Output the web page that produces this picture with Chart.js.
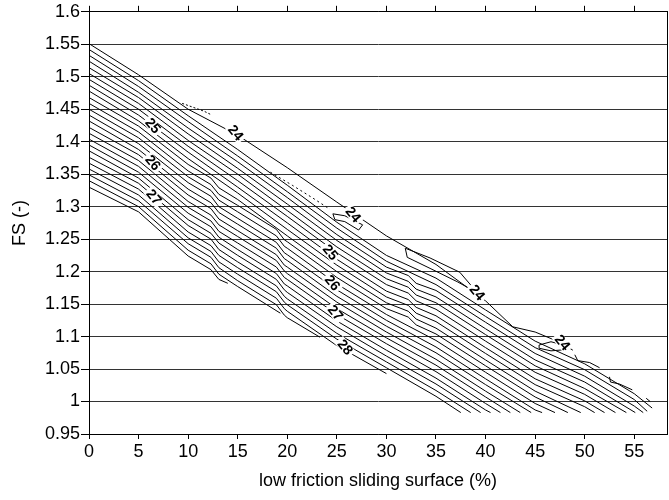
<!DOCTYPE html>
<html>
<head>
<meta charset="utf-8">
<script src="https://cdn.jsdelivr.net/npm/chart.js@4.4.1/dist/chart.umd.min.js"></script>
<style>
  html, body { margin: 0; padding: 0; background: #fff; }
  #wrap { width: 669px; height: 500px; }
</style>
</head>
<body>
<div id="wrap"><canvas id="graf" width="669" height="500"></canvas></div>
<script>
const cols = [0, 5, 10, 12.3, 13.1, 15, 18.9, 19.7, 20, 25, 30, 32.2, 33, 35, 40, 45, 50, 55];

// contour lines, FS at the columns above (null = not read there); e = where the line stops
const c1  = [1.542, 1.494, 1.440, null, null, 1.388, null, null, 1.333, 1.276, 1.225, null, null, 1.190, 1.141, 1.093, 1.058, 1.012]; const e1 = [56.8, 0.990];
const c2  = [1.533, 1.485, 1.431, null, null, 1.378, null, null, 1.323, 1.267, 1.216, null, null, 1.180, 1.131, 1.083, 1.049, 1.003]; const e2 = [56.3, 0.985];
const c3  = [1.524, 1.476, 1.421, null, null, 1.369, null, null, 1.314, 1.257, 1.207, 1.194, 1.182, 1.171, 1.122, 1.074, 1.039, 0.993]; const e3 = [55.9, 0.983];
const c4  = [1.514, 1.468, 1.412, null, null, 1.359, null, null, 1.304, 1.248, 1.198, 1.185, 1.173, 1.161, 1.112, 1.064, 1.030]; const e4 = [55.1, 0.983];
const c5  = [1.505, 1.459, 1.402, null, null, 1.350, null, null, 1.294, 1.238, 1.189, 1.176, 1.164, 1.152, 1.103, 1.055, 1.020]; const e5 = [54.2, 0.983];
const c6  = [1.496, 1.450, 1.393, null, null, 1.340, null, null, 1.285, 1.229, 1.180, 1.167, 1.155, 1.142, 1.093, 1.045, 1.011]; const e6 = [53.1, 0.983];
const c7  = [1.487, 1.441, 1.384, null, null, 1.330, null, null, 1.275, 1.219, 1.170, 1.157, 1.145, 1.132, 1.083, 1.035, 1.001]; const e7 = [52.0, 0.983];
const c8  = [1.478, 1.432, 1.374, null, null, 1.321, null, null, 1.265, 1.210, 1.161, 1.148, 1.136, 1.123, 1.074, 1.026, 0.992]; const e8 = [51.0, 0.983];
const c9  = [1.468, 1.424, 1.365, 1.344, 1.329, 1.311, null, null, 1.255, 1.200, 1.152, 1.139, 1.127, 1.113, 1.064, 1.016]; const e9 = [49.6, 0.983];
const c10 = [1.459, 1.415, 1.355, 1.334, 1.319, 1.302, 1.265, 1.249, 1.246, 1.191, 1.143, 1.130, 1.118, 1.104, 1.055, 1.007]; const e10 = [48.3, 0.983];
const c11 = [1.450, 1.406, 1.346, 1.325, 1.310, 1.292, 1.255, 1.239, 1.236, 1.181, 1.134, null, null, 1.094, 1.045, 0.997]; const e11 = [47.0, 0.983];
const c12 = [1.441, 1.397, 1.337, 1.316, 1.300, 1.282, 1.245, 1.229, 1.226, 1.172, 1.125, null, null, 1.084, 1.035, 0.987]; const e12 = [45.7, 0.983];
const c13 = [1.432, 1.388, 1.327, 1.306, 1.291, 1.273, 1.236, 1.220, 1.217, 1.162, 1.116, null, null, 1.075, 1.026]; const e13 = [44.6, 0.983];
const c14 = [1.422, 1.380, 1.318, 1.297, 1.281, 1.263, 1.226, 1.210, 1.207, 1.153, 1.107, null, null, 1.065, 1.016]; const e14 = [43.5, 0.983];
const c15 = [1.413, 1.371, 1.308, 1.287, 1.272, 1.254, 1.217, 1.201, 1.197, 1.143, 1.098, null, null, 1.056, 1.007]; const e15 = [42.5, 0.983];
const c16 = [1.404, 1.362, 1.299, 1.278, 1.262, 1.244, 1.207, 1.191, 1.188, 1.134, 1.089, null, null, 1.046, 0.997]; const e16 = [41.5, 0.983];
const c17 = [1.395, 1.353, 1.290, 1.269, 1.253, 1.234, 1.197, 1.181, 1.178, 1.124, 1.079, null, null, 1.036, 0.987]; const e17 = [40.5, 0.983];
const c18 = [1.386, 1.344, 1.280, 1.259, 1.244, 1.225, 1.188, 1.172, 1.168, 1.115, 1.070, null, null, 1.027]; const e18 = [39.5, 0.983];
const c19 = [1.376, 1.336, 1.271, 1.250, 1.234, 1.215, 1.178, 1.162, 1.158, 1.105, 1.061, null, null, 1.017]; const e19 = [38.5, 0.983];
const c20 = [1.367, 1.327, 1.261, 1.240, 1.225, 1.206, 1.169, 1.153, 1.149, 1.096, 1.052, null, null, 1.008]; const e20 = [37.5, 0.983];
const c21 = [1.358, 1.318, 1.252, 1.231, 1.215, 1.196, 1.159, 1.143, 1.139, 1.086, 1.043]; const e21 = null;
const c22 = [1.349, 1.309, 1.243, 1.222, 1.206, 1.186, 1.149, 1.133, 1.129]; const e22 = [23.3, 1.099];
const c23 = [1.340, 1.300, 1.233, 1.212, 1.196, 1.177]; const e23 = [19.3, 1.136];
const c24 = [1.330, 1.292, 1.224, 1.203, 1.188]; const e24 = [14.0, 1.182];

// outer 24 line
const topX = [0, 5, 10, 15, 20, 25, 30, 35, 40, 42.75, 45, 47.7, 48.8];
const topY = [1.551, 1.503, 1.450, 1.410, 1.360, 1.307, 1.255, 1.211, 1.155, 1.115, 1.107, 1.090, 1.079];

// small pieces and islands of the 24 level
const dot1 = [[9.4, 1.459], [10.5, 1.453], [11.6, 1.447], [12.4, 1.441]];
const dot2 = [[18.3, 1.353], [20.5, 1.333], [22.5, 1.314], [24.3, 1.296]];
const loop1 = [[24.6, 1.289], [25.8, 1.286], [27.6, 1.272], [27.2, 1.264], [25.8, 1.277], [24.8, 1.280], [24.6, 1.289]];
const loop2 = [[31.9, 1.236], [34.4, 1.221], [37.4, 1.199], [39.2, 1.167], [37.2, 1.184], [34.4, 1.205], [32.1, 1.222], [31.9, 1.236]];
const loop3 = [[45.4, 1.087], [46.6, 1.092], [48.1, 1.086], [48.2, 1.080], [46.6, 1.078], [45.4, 1.082], [45.4, 1.087]];
const frag1 = [[49.0, 1.072], [49.3, 1.063], [50.5, 1.060], [51.5, 1.052]];
const frag2 = [[52.5, 1.038], [52.6, 1.030], [53.5, 1.027], [54.8, 1.018]];
const frag3 = [[56.2, 1.005], [56.6, 1.000]];

// contour labels
const labX = [14.75, 26.6, 39.1, 47.7, 6.4, 24.3, 6.4, 24.5, 6.5, 24.8, 25.8];
const labY = [1.413, 1.287, 1.167, 1.090, 1.424, 1.229, 1.367, 1.182, 1.314, 1.136, 1.083];
const labT = ['24', '24', '24', '24', '25', '25', '26', '26', '27', '27', '28'];

// axes
const xTicks = [0, 5, 10, 15, 20, 25, 30, 35, 40, 45, 50, 55];
const yTicks = [0.95, 1, 1.05, 1.1, 1.15, 1.2, 1.25, 1.3, 1.35, 1.4, 1.45, 1.5, 1.55, 1.6];

Chart.defaults.font.family = '"Liberation Sans", Arial, sans-serif';
Chart.defaults.color = '#000';

function colLine(vals, end) {
  const out = [];
  vals.forEach((v, i) => { if (v !== null) out.push({x: cols[i], y: v}); });
  if (end) out.push({x: end[0], y: end[1]});
  return out;
}
function pairLine(p) {
  return p.map(q => ({x: q[0], y: q[1]}));
}
function ds(data, dash) {
  return { data: data, showLine: true, borderColor: '#000', borderWidth: 1,
           pointRadius: 0, fill: false, tension: 0, borderDash: dash || [] };
}

const lines = [
  [c1, e1], [c2, e2], [c3, e3], [c4, e4], [c5, e5], [c6, e6], [c7, e7], [c8, e8],
  [c9, e9], [c10, e10], [c11, e11], [c12, e12], [c13, e13], [c14, e14], [c15, e15], [c16, e16],
  [c17, e17], [c18, e18], [c19, e19], [c20, e20], [c21, e21], [c22, e22], [c23, e23], [c24, e24]
];

const datasets = [];
datasets.push(ds(topX.map((x, i) => ({x: x, y: topY[i]}))));
lines.forEach(l => datasets.push(ds(colLine(l[0], l[1]))));
datasets.push(ds(pairLine(dot1), [2, 2]));
datasets.push(ds(pairLine(dot2), [2, 3]));
[loop1, loop2, loop3, frag1, frag2, frag3].forEach(p => datasets.push(ds(pairLine(p))));

const contourLabels = {
  id: 'contourLabels',
  afterDatasetsDraw(chart) {
    const ctx = chart.ctx, x = chart.scales.x, y = chart.scales.y;
    ctx.save();
    ctx.font = 'bold 14px "Liberation Sans", Arial, sans-serif';
    ctx.textAlign = 'center';
    ctx.textBaseline = 'middle';
    labX.forEach((lx, i) => {
      const px = x.getPixelForValue(lx), py = y.getPixelForValue(labY[i]);
      ctx.save();
      ctx.translate(px, py);
      ctx.rotate(50 * Math.PI / 180);
      ctx.fillStyle = '#fff';
      ctx.fillRect(-10, -6, 20, 11);
      ctx.fillStyle = '#000';
      ctx.fillText(labT[i], 0, 0);
      ctx.restore();
    });
    ctx.restore();
  }
};

const tickFont = {size: 18};

new Chart(document.getElementById('graf').getContext('2d'), {
  type: 'scatter',
  data: { datasets: datasets },
  options: {
    responsive: false,
    animation: false,
    layout: { padding: 0 },
    plugins: { legend: { display: false }, tooltip: { enabled: false } },
    scales: {
      x: {
        type: 'linear', position: 'bottom', min: 0, max: 58.3,
        afterBuildTicks: s => { s.ticks = xTicks.map(v => ({value: v})); },
        afterFit: s => { s.height = 66; },
        grid: { drawOnChartArea: false, color: '#000', tickLength: 5 },
        border: { color: '#000' },
        ticks: { font: tickFont, padding: 2, maxRotation: 0, autoSkip: false, callback: v => String(v) },
        title: { display: true, text: 'low friction sliding surface (%)', font: {size: 18}, padding: {top: 0, bottom: 8} }
      },
      x2: {
        type: 'linear', position: 'top', min: 0, max: 58.3,
        afterBuildTicks: s => { s.ticks = xTicks.map(v => ({value: v})); },
        afterFit: s => { s.height = 10; },
        grid: { drawOnChartArea: false, color: '#000', tickLength: 6 },
        border: { color: '#000' },
        ticks: { display: false }
      },
      y: {
        type: 'linear', position: 'left', min: 0.95, max: 1.6,
        afterBuildTicks: s => { s.ticks = yTicks.map(v => ({value: v})); },
        afterFit: s => { s.width = 89; },
        grid: { color: '#333', tickColor: '#000', tickLength: 8 },
        border: { color: '#000' },
        ticks: { font: tickFont, padding: 1, autoSkip: false, callback: v => String(Math.round(v * 100) / 100) },
        title: { display: true, text: 'FS (-)', font: {size: 18}, padding: {top: 9, bottom: 0} }
      },
      y2: {
        type: 'linear', position: 'right', min: 0.95, max: 1.6,
        afterFit: s => { s.width = 2; },
        grid: { drawOnChartArea: false, drawTicks: false },
        border: { color: '#000' },
        ticks: { display: false }
      }
    }
  },
  plugins: [contourLabels]
});
</script>
</body>
</html>
